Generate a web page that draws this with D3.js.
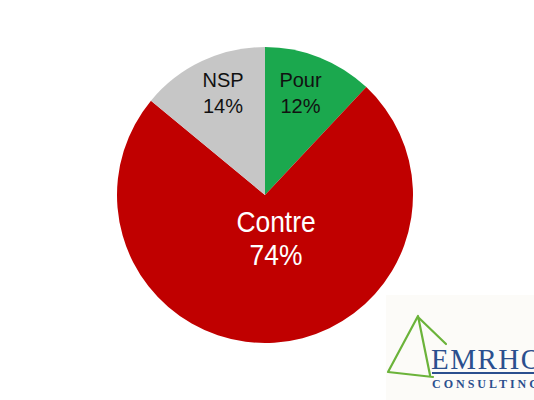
<!DOCTYPE html>
<html><head><meta charset="utf-8">
<script src="https://cdn.jsdelivr.net/npm/d3@7"></script>
<style>body{margin:0;background:#fff}svg{display:block}</style>
</head><body>
<script>
const categories = ["Pour", "Contre", "NSP"];
const values = [12, 74, 14];
const colors = ["#1ba84e", "#c00000", "#c6c6c6"];
const labelColors = ["#111", "#fff", "#111"];

const W = 534, H = 400;
const svg = d3.select("body").append("svg").attr("width", W).attr("height", H);

// logo background
svg.append("rect").attr("x", 386).attr("y", 295).attr("width", W - 386).attr("height", H - 295).attr("fill", "#fcfbf8");

const cx = 265, cy = 195, r = 148;
const pie = d3.pie().sort(null).value(d => d)(values);
const arc = d3.arc().innerRadius(0).outerRadius(r);
const g = svg.append("g").attr("transform", `translate(${cx},${cy})`);
g.selectAll("path").data(pie).join("path").attr("d", arc).attr("fill", (d, i) => colors[i]);

// [x, y, fontSize, lineGap, horizontal scale]
const labelPos = [[35.5, -108, 20, 26, 1], [11, 37, 30, 33, 0.88], [-42, -108, 20, 26, 1]];
pie.forEach((d, i) => {
  const [x, y, fs, gap, sx] = labelPos[i];
  const t = g.append("text").attr("text-anchor", "middle").attr("fill", labelColors[i])
    .attr("transform", `translate(${x},0) scale(${sx},1)`)
    .attr("font-family", "Liberation Sans, Arial, sans-serif").attr("font-size", fs);
  t.append("tspan").attr("x", 0).attr("y", y).text(categories[i]);
  t.append("tspan").attr("x", 0).attr("y", y + gap).text(values[i] + "%");
});

// logo
const lg = svg.append("g");
lg.append("path").attr("d", "M418,316 L388,372 L433,377 M418,316 L430,375 M419,318 L446,344")
  .attr("fill", "none").attr("stroke", "#6bb33a").attr("stroke-width", 2.2).attr("stroke-linejoin", "round").attr("stroke-linecap", "round");
lg.append("text").attr("x", 431).attr("y", 369).attr("font-family", "Liberation Serif, serif").attr("font-size", 29)
  .attr("letter-spacing", 1.5).attr("fill", "#2b4f8e").text("EMRHO");
lg.append("line").attr("x1", 432).attr("x2", 534).attr("y1", 373).attr("y2", 373).attr("stroke", "#2b4f8e").attr("stroke-width", 2);
lg.append("text").attr("x", 432).attr("y", 388).attr("font-family", "Liberation Serif, serif").attr("font-size", 12).attr("font-weight", "bold")
  .attr("letter-spacing", 3).attr("fill", "#2b4f8e").text("CONSULTING");
</script>
</body></html>
